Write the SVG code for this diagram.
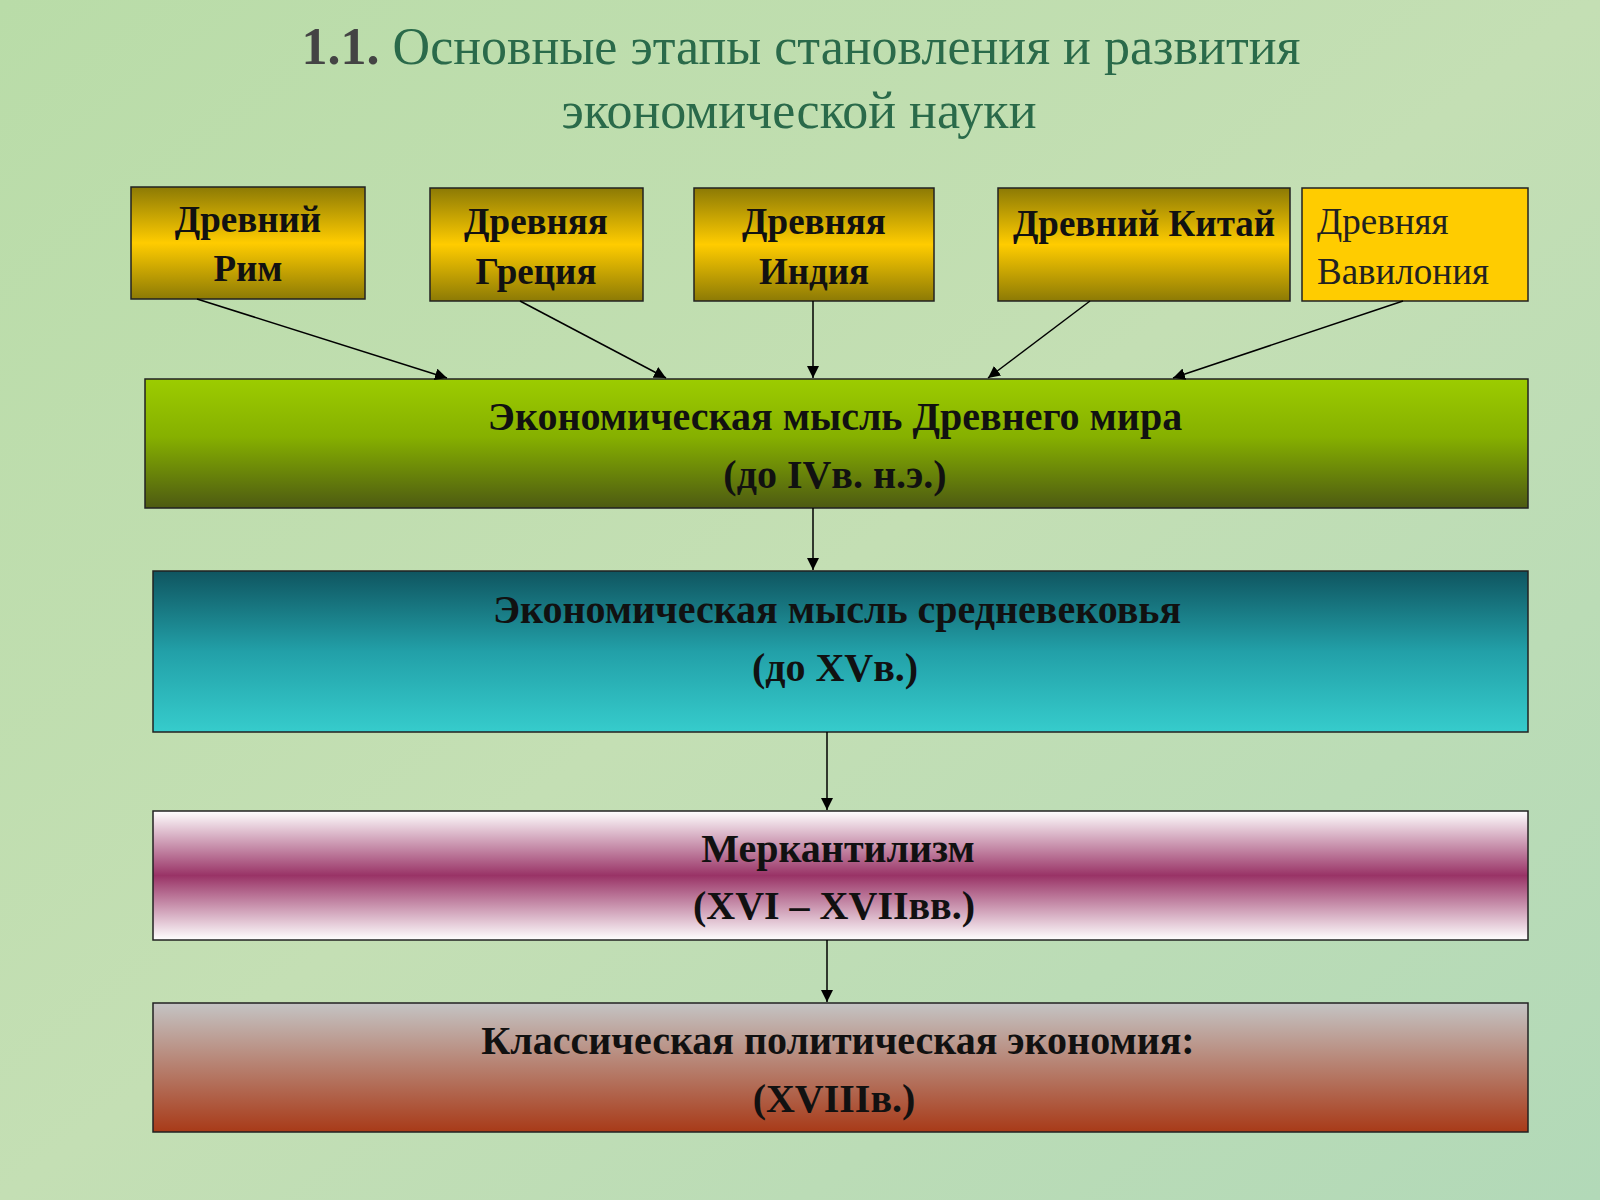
<svg xmlns="http://www.w3.org/2000/svg" width="1600" height="1200" viewBox="0 0 1600 1200">
<defs>
<linearGradient id="bg" x1="0" y1="0" x2="1" y2="1"><stop offset="0" stop-color="#b9dca8"/><stop offset="0.5" stop-color="#c4dfb4"/><stop offset="1" stop-color="#b2d9b8"/></linearGradient>
<linearGradient id="gold" x1="0" y1="0" x2="0" y2="1"><stop offset="0" stop-color="#8c7a05"/><stop offset="0.5" stop-color="#ffcc00"/><stop offset="1" stop-color="#8c7a05"/></linearGradient>
<linearGradient id="green" x1="0" y1="0" x2="0" y2="1"><stop offset="0" stop-color="#9ccc00"/><stop offset="0.45" stop-color="#86b000"/><stop offset="1" stop-color="#4d5a12"/></linearGradient>
<linearGradient id="teal" x1="0" y1="0" x2="0" y2="1"><stop offset="0" stop-color="#0f5560"/><stop offset="0.5" stop-color="#22a0a8"/><stop offset="1" stop-color="#36cccc"/></linearGradient>
<linearGradient id="merc" x1="0" y1="0" x2="0" y2="1"><stop offset="0" stop-color="#ffffff"/><stop offset="0.5" stop-color="#993366"/><stop offset="1" stop-color="#ffffff"/></linearGradient>
<linearGradient id="clas" x1="0" y1="0" x2="0" y2="1"><stop offset="0" stop-color="#c4c4c4"/><stop offset="1" stop-color="#a83a18"/></linearGradient>
<marker id="ah" viewBox="0 0 10 10" refX="10" refY="5" markerWidth="8" markerHeight="8" orient="auto"><path d="M0,0 L10,5 L0,10 z" fill="#000"/></marker>
</defs>
<style>
.b{stroke:#222;stroke-width:1.5}
.t{font-family:"Liberation Serif",serif;font-weight:bold;font-size:40px;fill:#111;text-anchor:middle}
.s{font-size:37px}
.c{stroke:#000;stroke-width:1.5;fill:none;marker-end:url(#ah)}
</style>
<rect width="1600" height="1200" fill="url(#bg)"/>
<g id="title" font-family="Liberation Serif,serif" font-size="52" fill="#2a6a4a" text-anchor="middle">
<text x="801" y="64"><tspan font-weight="bold" fill="#444">1.1.</tspan> Основные этапы становления и развития</text>
<text x="799" y="128">экономической науки</text>
</g>
<g id="rim"><rect class="b" x="131" y="187" width="234" height="112" fill="url(#gold)"/><text class="t s" x="248" y="232">Древний</text><text class="t s" x="248" y="281">Рим</text></g>
<g id="greece"><rect class="b" x="430" y="188" width="213" height="113" fill="url(#gold)"/><text class="t s" x="536" y="234">Древняя</text><text class="t s" x="536" y="284">Греция</text></g>
<g id="india"><rect class="b" x="694" y="188" width="240" height="113" fill="url(#gold)"/><text class="t s" x="814" y="234">Древняя</text><text class="t s" x="814" y="284">Индия</text></g>
<g id="china"><rect class="b" x="998" y="188" width="292" height="113" fill="url(#gold)"/><text class="t s" x="1144" y="236">Древний Китай</text></g>
<g id="babylon"><rect class="b" x="1302" y="188" width="226" height="113" fill="#ffcc00"/><text x="1317" y="234" font-family="Liberation Serif,serif" font-size="37" fill="#222">Древняя</text><text x="1317" y="284" font-family="Liberation Serif,serif" font-size="37" fill="#222">Вавилония</text></g>
<g id="ancient"><rect class="b" x="145" y="379" width="1383" height="129" fill="url(#green)"/><text class="t" x="835" y="430">Экономическая мысль Древнего мира</text><text class="t" x="835" y="488">(до  IVв.  н.э.)</text></g>
<g id="medieval"><rect class="b" x="153" y="571" width="1375" height="161" fill="url(#teal)"/><text class="t" x="837" y="623">Экономическая мысль средневековья</text><text class="t" x="835" y="681">(до  XVв.)</text></g>
<g id="merc"><rect class="b" x="153" y="811" width="1375" height="129" fill="url(#merc)"/><text class="t" x="838" y="862">Меркантилизм</text><text class="t" x="834" y="919">(XVI – XVIIвв.)</text></g>
<g id="classic"><rect class="b" x="153" y="1003" width="1375" height="129" fill="url(#clas)"/><text class="t" x="838" y="1054">Классическая политическая экономия:</text><text class="t" x="834" y="1112">(XVIIIв.)</text></g>
<g id="connectors">
<line class="c" x1="197" y1="299" x2="447" y2="378"/>
<line class="c" x1="520" y1="301" x2="666" y2="378"/>
<line class="c" x1="813" y1="301" x2="813" y2="378"/>
<line class="c" x1="1090" y1="301" x2="988" y2="378"/>
<line class="c" x1="1403" y1="301" x2="1173" y2="378"/>
<line class="c" x1="813" y1="508" x2="813" y2="570"/>
<line class="c" x1="827" y1="732" x2="827" y2="810"/>
<line class="c" x1="827" y1="940" x2="827" y2="1002"/>
</g>
</svg>
